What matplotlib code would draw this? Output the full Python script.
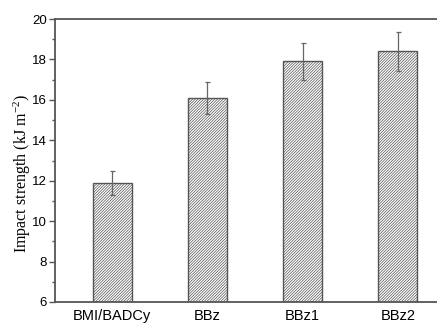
import matplotlib
matplotlib.use("Agg")
import matplotlib.pyplot as plt
from matplotlib.ticker import MultipleLocator

categories = ["BMI/BADCy", "BBz", "BBz1", "BBz2"]
impact_strength = [11.9, 16.1, 17.9, 18.4]
errors = [0.6, 0.8, 0.9, 0.95]

plt.rcParams["hatch.linewidth"] = 0.5
plt.rcParams["hatch.color"] = "#777777"
plt.rcParams["mathtext.fontset"] = "custom"
plt.rcParams["mathtext.rm"] = "Liberation Serif"
plt.rcParams["mathtext.it"] = "Liberation Serif:italic"
plt.rcParams["mathtext.bf"] = "Liberation Serif:bold"

fig = plt.figure(figsize=(4.37, 3.24), dpi=100)
ax = fig.add_axes([55 / 437, 22 / 324, 400 / 437, 283 / 324])

x = list(range(len(categories)))
ax.bar(x, impact_strength, width=0.41, bottom=0, color="white",
       edgecolor="#555555", linewidth=1.0, hatch="/" * 12, zorder=2)
ax.errorbar(x, impact_strength, yerr=errors, fmt="none", ecolor="#666666",
            elinewidth=0.9, capsize=1.8, capthick=0.9, zorder=3)

ax.set_ylim(6, 20)
ax.set_xlim(-0.6, 3.6)
ax.yaxis.set_major_locator(MultipleLocator(2))
ax.yaxis.set_minor_locator(MultipleLocator(1))
ax.set_xticks(x)
ax.set_xticklabels(categories, fontfamily="Liberation Sans", fontsize=10.5)
ax.tick_params(axis="x", length=0, pad=5)
ax.tick_params(axis="y", which="major", direction="out", length=4, width=1,
               color="#555555", labelsize=9.5, pad=2)
ax.tick_params(axis="y", which="minor", direction="out", length=2.5, width=1,
               color="#555555")
for lab in ax.get_yticklabels():
    lab.set_fontfamily("Liberation Sans")

for side in ("left", "top", "bottom"):
    ax.spines[side].set_color("#555555")
    ax.spines[side].set_linewidth(1.3)
ax.spines["right"].set_visible(False)

ax.set_ylabel("Impact strength (kJ m$^{-2}$)", fontfamily="Liberation Serif",
              fontsize=11.5)
ax.yaxis.set_label_coords(-0.055, 0.455)

fig.savefig("out.png", dpi=100)
